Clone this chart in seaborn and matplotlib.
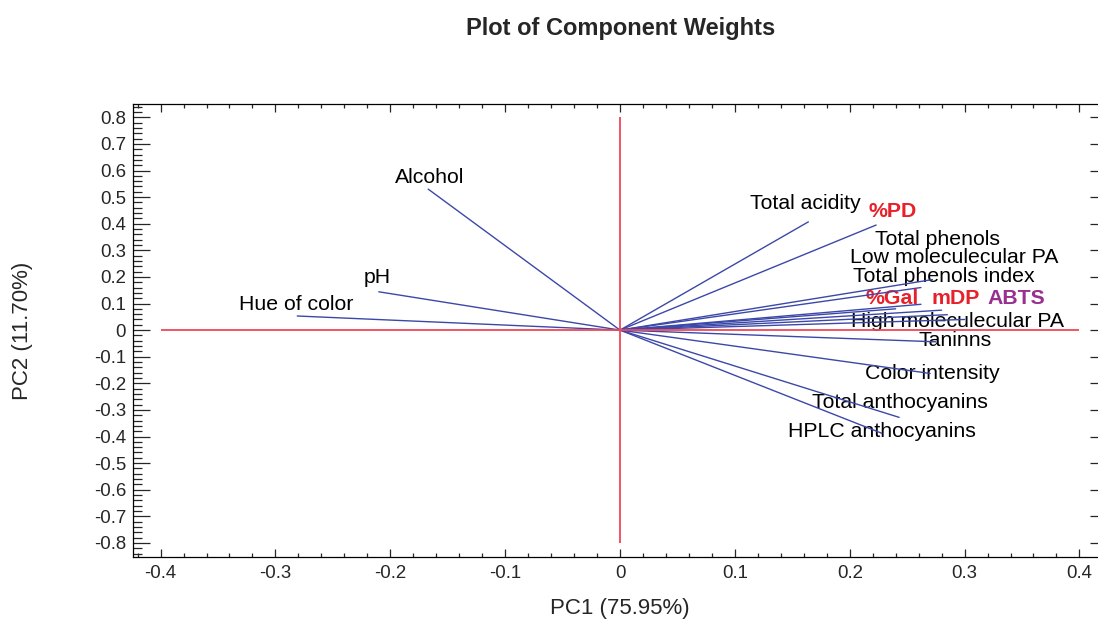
import numpy as np
import pandas as pd
import matplotlib
matplotlib.use("Agg")
import matplotlib.pyplot as plt
from matplotlib.ticker import MultipleLocator, FuncFormatter
import seaborn as sns

## component weights
variables = ["Alcohol", "pH", "Hue of color", "Total acidity", "%PD",
             "Total phenols", "Low moleculecular PA", "Total phenols index",
             "%Gal", "mDP", "ABTS", "High moleculecular PA", "Taninns",
             "Color intensity", "Total anthocyanins", "HPLC anthocyanins"]
pc1 = [-0.167, -0.210, -0.281, 0.164, 0.223,
       0.272, 0.262, 0.262,
       0.240, 0.280, 0.285, 0.300, 0.275,
       0.270, 0.243, 0.228]
pc2 = [0.530, 0.144, 0.053, 0.407, 0.395,
       0.190, 0.160, 0.097,
       0.080, 0.075, 0.058, 0.040, -0.044,
       -0.163, -0.328, -0.388]

## where the labels sit (data units), as placed in the original
label_x = [-0.166, -0.211, -0.282, 0.161, 0.237,
           0.276, 0.291, 0.282,
           0.237, 0.292, 0.345, 0.294, 0.292,
           0.272, 0.244, 0.228]
label_y = [0.575, 0.199, 0.098, 0.477, 0.447,
           0.342, 0.272, 0.200,
           0.120, 0.120, 0.120, 0.034, -0.038,
           -0.162, -0.274, -0.380]

xticks = [-0.4, -0.3, -0.2, -0.1, 0.0, 0.1, 0.2, 0.3, 0.4]
yticks = [-0.8, -0.7, -0.6, -0.5, -0.4, -0.3, -0.2, -0.1, 0.0,
          0.1, 0.2, 0.3, 0.4, 0.5, 0.6, 0.7, 0.8]

highlight = {"%PD": "#E8202A", "%Gal": "#E8202A", "mDP": "#E8202A", "ABTS": "#98308F"}

## long form: each vector as two rows (origin, tip)
rows = []
for v, x, y in zip(variables, pc1, pc2):
    rows.append({"variable": v, "pc1": 0.0, "pc2": 0.0})
    rows.append({"variable": v, "pc1": x, "pc2": y})
vec_df = pd.DataFrame(rows)

sns.set_style("white")
plt.rcParams["font.family"] = ["Liberation Sans", "DejaVu Sans"]
plt.rcParams["axes.unicode_minus"] = False

fig = plt.figure(figsize=(10.98, 6.19), dpi=100)
ax = fig.add_axes([133 / 1098, 1 - 557 / 619, 974 / 1098, 453 / 619])

sns.lineplot(data=vec_df, x="pc1", y="pc2", units="variable", estimator=None,
             sort=False, color="#3C48A8", lw=1.0, ax=ax, zorder=2, legend=False)

ax.hlines(0, xticks[0], xticks[-1], color="#F04858", lw=1.3, zorder=3)
ax.vlines(0, yticks[0], yticks[-1], color="#F04858", lw=1.3, zorder=3)

for v, tx, ty in zip(variables, label_x, label_y):
    if v in highlight:
        ax.text(tx, ty, v, ha="center", va="center", fontsize=15.3,
                fontweight="bold", color=highlight[v], zorder=1)
    else:
        ax.text(tx, ty, v, ha="center", va="center", fontsize=15.3,
                color="black", zorder=1)

ax.set_xlim(-0.424, 0.424)
ax.set_ylim(-0.853, 0.85)
ax.set_xticks(xticks)
ax.set_yticks(yticks)
ax.xaxis.set_minor_locator(MultipleLocator(0.02))
ax.yaxis.set_minor_locator(MultipleLocator(0.02))
fmt = FuncFormatter(lambda v, p: "0" if abs(v) < 1e-9 else f"{v:.1f}")
ax.xaxis.set_major_formatter(fmt)
ax.yaxis.set_major_formatter(fmt)

ax.tick_params(axis="x", which="major", direction="in", length=5.5, width=0.9,
               top=True, bottom=True, labelsize=13.4, pad=6)
ax.tick_params(axis="x", which="minor", direction="in", length=2.8, width=0.9,
               top=True, bottom=True)
ax.tick_params(axis="y", which="major", direction="in", length=12, width=0.9,
               left=True, right=True, labelsize=13.4, pad=5)
ax.tick_params(axis="y", which="minor", direction="in", length=6.5, width=0.9,
               left=True, right=True)
for s in ax.spines.values():
    s.set_color("black")
    s.set_linewidth(0.9)

ax.set_xlabel("PC1 (75.95%)", fontsize=16)
ax.set_ylabel("PC2 (11.70%)", fontsize=16)
ax.xaxis.set_label_coords(0.5, -0.09)
ax.yaxis.set_label_coords(-0.103, 0.5)

fig.text(621 / 1098, 1 - 28 / 619, "Plot of Component Weights", ha="center",
         va="center", fontsize=17, fontweight="bold")

fig.savefig("out.png", dpi=100)
